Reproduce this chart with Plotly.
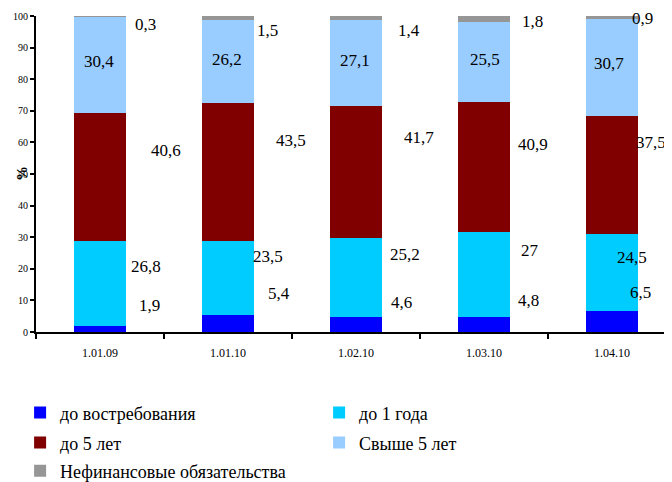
import plotly.graph_objects as go

categories = ["1.01.09", "1.01.10", "1.02.10", "1.03.10", "1.04.10"]
series_names = ["до востребования", "до 1 года", "до 5 лет", "Свыше 5 лет", "Нефинансовые обязательства"]
demand = [1.9, 5.4, 4.6, 4.8, 6.5]
upto_1y = [26.8, 23.5, 25.2, 27, 24.5]
upto_5y = [40.6, 43.5, 41.7, 40.9, 37.5]
over_5y = [30.4, 26.2, 27.1, 25.5, 30.7]
nonfin = [0.3, 1.5, 1.4, 1.8, 0.9]
y_ticks = list(range(0, 101, 10))

series_values = [demand, upto_1y, upto_5y, over_5y, nonfin]

# styles (kept apart from data)
colors = ["#0000FF", "#00CCFF", "#800000", "#99CCFF", "#969696"]
legend_ids = ["legend", "legend", "legend2", "legend2", "legend3"]
label_dx = [
    [49, 51, 46, 45, 29],
    [46, 40, 49, 46, 20],
    [66, 63, 63, 49, 39],
    [-1, -1, -1, 1, -3],
    [45, 40, 53, 49, 31],
]
label_dy = [
    [24, 30, 22, 24, 29],
    [17, 21, 23, 24, 15],
    [27, 31, 34, 22, 32],
    [3, 2, 3, 2, 4],
    [-8, -12, -12, -3, -1],
]

FONT = "Liberation Serif"

fig = go.Figure()
for name, vals, col, lg in zip(series_names, series_values, colors, legend_ids):
    fig.add_trace(go.Bar(
        x=categories, y=vals, name=name, width=0.41,
        marker=dict(color=col, line=dict(width=0)),
        legend=lg, hoverinfo="skip",
    ))

# value labels placed relative to segment centres
annotations = []
base = [0.0] * len(categories)
for s, vals in enumerate(series_values):
    for i, v in enumerate(vals):
        mid = base[i] + v / 2
        base[i] += v
        annotations.append(dict(
            x=categories[i], y=mid, xref="x", yref="y",
            text=f"{v:g}".replace(".", ","), showarrow=False,
            xshift=label_dx[s][i], yshift=label_dy[s][i],
            font=dict(family=FONT, size=17, color="black"),
        ))

annotations.append(dict(
    x=0, y=0.5, xref="paper", yref="paper", text="<b>%</b>", textangle=-90,
    xanchor="center", yanchor="middle",
    showarrow=False, xshift=-14, font=dict(family=FONT, size=15, color="black"),
))

legend_common = dict(
    orientation="h", xanchor="left", yanchor="middle",
    font=dict(family=FONT, size=18, color="black"),
    entrywidth=254, bgcolor="rgba(0,0,0,0)", borderwidth=0,
    traceorder="normal",
)

# page body adds an 8px offset, so the figure is 8px smaller and margins shifted
fig.update_layout(
    width=664, height=474,
    margin=dict(l=28, r=0, t=8, b=150, autoexpand=False),
    plot_bgcolor="white", paper_bgcolor="white",
    barmode="stack",
    showlegend=True,
    legend=dict(x=-0.025, y=-0.256, **legend_common),
    legend2=dict(x=-0.025, y=-0.351, **legend_common),
    legend3=dict(x=-0.025, y=-0.440, **legend_common),
    annotations=annotations,
    font=dict(family=FONT, color="black"),
)
fig.update_xaxes(
    type="category", range=[-0.5, 4.469], tickson="boundaries",
    ticks="outside", ticklen=5, tickwidth=1.5, tickcolor="black",
    showline=True, linewidth=2, linecolor="black",
    showgrid=False, zeroline=False, automargin=False,
    tickfont=dict(family=FONT, size=12, color="black"),
    ticklabelstandoff=9,
)
fig.update_yaxes(
    range=[0, 100], tickvals=y_ticks, ticks="outside", ticklen=4,
    tickwidth=1.5, tickcolor="black",
    showline=True, linewidth=2, linecolor="black",
    showgrid=False, zeroline=False, automargin=False,
    tickfont=dict(family=FONT, size=10, color="black"),
)

fig.write_html("out.html")
